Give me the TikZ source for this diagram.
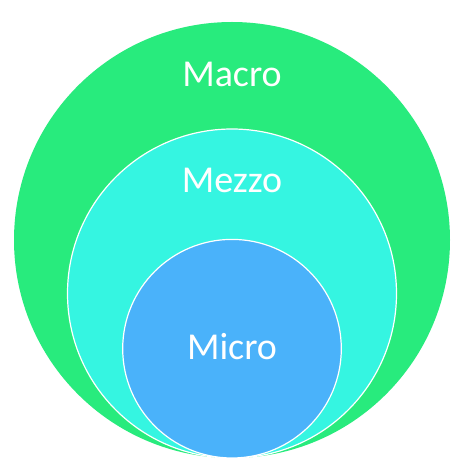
\documentclass[tikz,border=0pt]{standalone}
\usepackage{fontspec}
\setmainfont{Carlito}
\definecolor{macrocol}{RGB}{40,235,125}
\definecolor{mezzocol}{RGB}{53,245,225}
\definecolor{microcol}{RGB}{74,178,250}
\begin{document}
\begin{tikzpicture}[x=1pt,y=1pt,
  ring/.style={circle,inner sep=0pt,outer sep=0pt},
  lbl/.style={anchor=base,text=white,font=\fontsize{38}{46}\selectfont,inner sep=0pt}]
\useasboundingbox (0,0) rectangle (466,466);
\fill[white] (0,0) rectangle (466,466);
\node[ring,fill=macrocol,minimum size=436pt] (macro) at (232,226) {};
\node[ring,fill=mezzocol,draw=white,line width=1.2pt,minimum size=329pt] (mezzo) at (232,172.5) {};
\node[ring,fill=microcol,draw=white,line width=1.2pt,minimum size=218.6pt] (micro) at (232,117.3) {};
\node[lbl] (tmacro) at (232,379) {Macro};
\node[lbl] (tmezzo) at (232,273) {Mezzo};
\node[lbl] (tmicro) at (232,106) {Micro};
\end{tikzpicture}
\end{document}
